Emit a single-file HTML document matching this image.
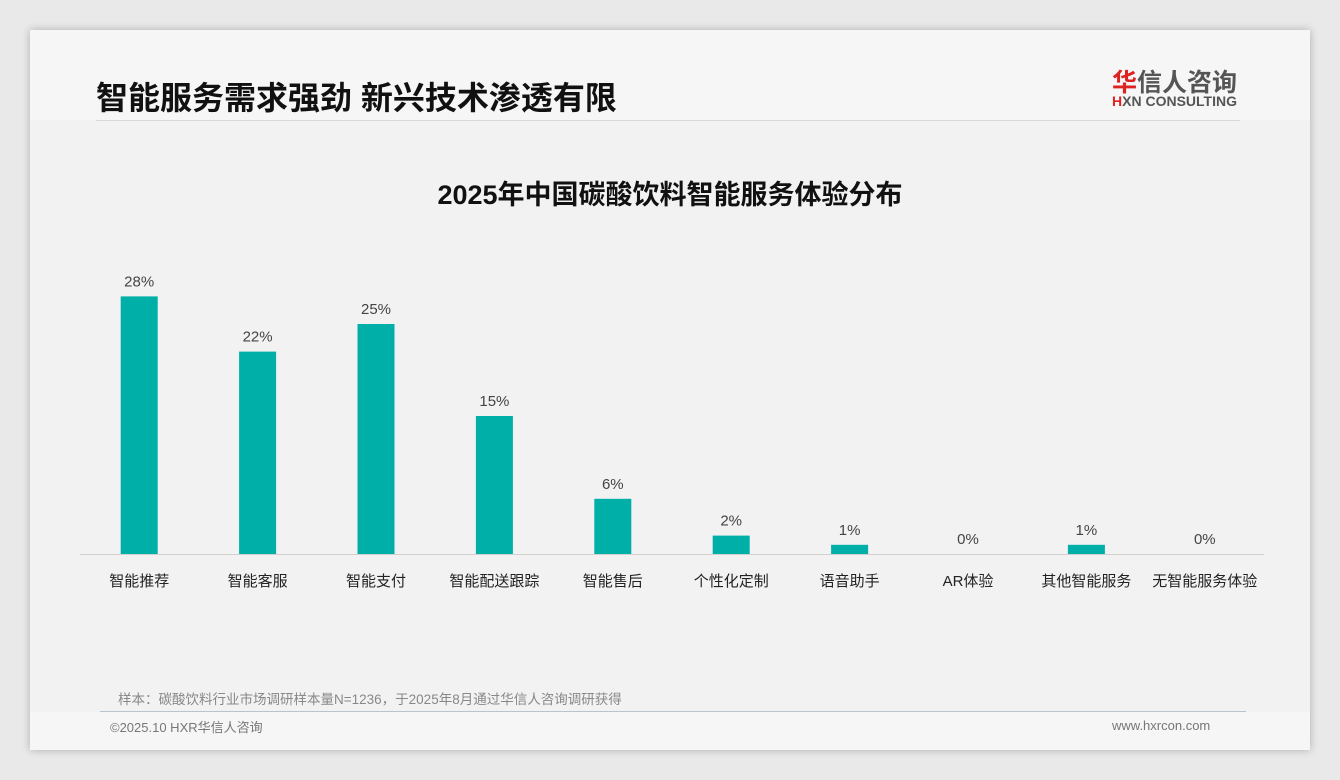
<!DOCTYPE html>
<html><head><meta charset="utf-8"><style>
body{margin:0;width:1340px;height:780px;background:#e9e9e9;font-family:"Liberation Sans","Noto Sans CJK SC",sans-serif;position:relative;overflow:hidden}
.card{position:absolute;left:30px;top:30px;width:1280px;height:720px;background:#f6f6f6;box-shadow:0 0 8px rgba(0,0,0,.25)}
.inner{position:absolute;left:0;top:90px;width:1280px;height:592px;background:#f2f2f2}
.t{position:absolute;white-space:nowrap}
</style></head><body>
<div class="card">
<div class="inner"></div>
<div class="t" style="left:66px;top:43px;font-size:32px;font-weight:bold;color:#111">智能服务需求强劲 新兴技术渗透有限</div>
<div style="position:absolute;left:66px;top:90px;width:1144px;height:1px;background:#d8d8d8"></div>
<div class="t" style="left:1082px;top:33px;font-size:25px;font-weight:bold;color:#555"><span style="color:#d22">华</span>信人咨询</div>
<div class="t" style="left:1082px;top:63px;font-size:14px;font-weight:bold;color:#555"><span style="color:#d22">H</span>XN CONSULTING</div>
<div class="t" style="left:0;width:1280px;text-align:center;top:143px;font-size:27px;font-weight:bold;color:#111">2025年中国碳酸饮料智能服务体验分布</div>
<div class="t" style="left:88px;top:658px;font-size:13.5px;color:#888">样本：碳酸饮料行业市场调研样本量N=1236，于2025年8月通过华信人咨询调研获得</div>
<div style="position:absolute;left:70px;top:681px;width:1146px;height:1px;background:#b8c4d0"></div>
<div class="t" style="left:80px;top:687px;font-size:13px;color:#777">©2025.10 HXR华信人咨询</div>
<div class="t" style="left:1082px;top:688px;font-size:13px;color:#777">www.hxrcon.com</div>
</div>
<svg id="chart" width="1340" height="780" style="position:absolute;left:0;top:0"></svg>
<script>
const categories=["智能推荐","智能客服","智能支付","智能配送跟踪","智能售后","个性化定制","语音助手","AR体验","其他智能服务","无智能服务体验"];
const values=[28,22,25,15,6,2,1,0,1,0];
const labels=["28%","22%","25%","15%","6%","2%","1%","0%","1%","0%"];
const svg=document.getElementById('chart');const NS='http://www.w3.org/2000/svg';
const x0=80,x1=1264,base=554,pxPer=9.2,band=(x1-x0)/categories.length,bw=37;
const xc=i=>x0+band*(i+0.5);const y=v=>base-v*pxPer;
function mk(t,a){const e=document.createElementNS(NS,t);for(const k in a)e.setAttribute(k,a[k]);svg.appendChild(e);return e;}
const ax=mk('line',{x1:x0,x2:x1,y1:base+0.5,y2:base+0.5,stroke:'#d0d0d0'});


categories.forEach((c,i)=>{
 const r=mk('rect',{x:xc(i)-bw/2,y:y(values[i]),width:bw,height:base-y(values[i]),fill:'#00b0a8'});
 
 
 const l=mk('text',{x:xc(i),y:y(values[i])-10,'text-anchor':'middle','font-size':15,fill:'#444','font-family':'Liberation Sans, sans-serif'});l.textContent=labels[i];
 
 
 const t=mk('text',{x:xc(i),y:586,'text-anchor':'middle','font-size':15,fill:'#222','font-family':'Liberation Sans, Noto Sans CJK SC, sans-serif'});t.textContent=c;
 
 
});
</script>
</body></html>
